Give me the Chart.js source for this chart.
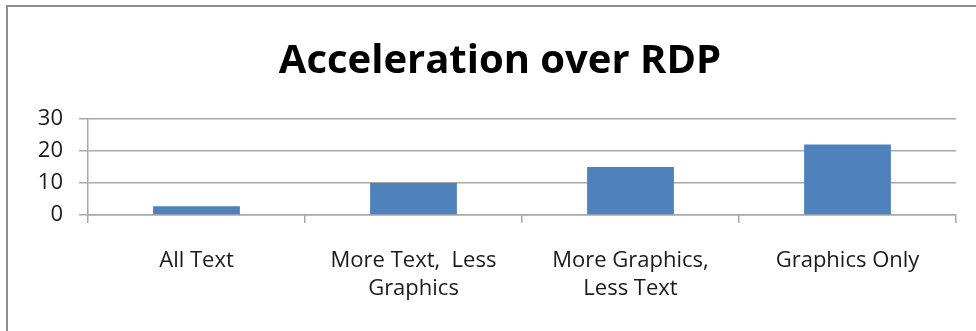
<!DOCTYPE html>
<html>
<head>
<meta charset="utf-8">
<script src="https://cdn.jsdelivr.net/npm/chart.js@4/dist/chart.umd.min.js"></script>
<style>
  html, body { margin: 0; padding: 0; background: #ffffff; overflow: hidden; }
  #wrap { position: relative; width: 976px; height: 331px; }
  #frame { position: absolute; left: 6px; top: 5px; width: 1100px; height: 500px;
           border-left: 2px solid #8e8e8e; border-top: 2px solid #8e8e8e; box-sizing: border-box; }
  #c { position: absolute; left: 0; top: 0; }
</style>
</head>
<body>
<div id="wrap">
  <div id="frame"></div>
  <canvas id="c" width="976" height="331"></canvas>
</div>
<script>
const categories = ["All Text", ["More Text,  Less", "Graphics"], ["More Graphics,", "Less Text"], "Graphics Only"];
const seriesValues = [2.7, 10, 15, 22];
const yTicks = [0, 10, 20, 30];
const chartTitle = "Acceleration over RDP";

const gridColor = "#a8a8a8";
const textColor = "#1a1a1a";

// let the y tick labels extend into the left padding (title centred on the frame)
const widenYLabelArea = {
  id: "widenYLabelArea",
  afterLayout(chart) { chart.scales.y.left = 0; }
};

new Chart(document.getElementById("c"), {
  type: "bar",
  data: {
    labels: categories,
    datasets: [{
      label: "Acceleration",
      data: seriesValues,
      backgroundColor: "#4f81bd",
      borderWidth: 0,
      categoryPercentage: 0.4,
      barPercentage: 1.0
    }]
  },
  plugins: [widenYLabelArea],
  options: {
    responsive: false,
    animation: false,
    devicePixelRatio: 1,
    layout: { padding: { left: 44, right: 20, top: 0, bottom: 0 } },
    plugins: {
      legend: { display: false },
      tooltip: { enabled: false },
      title: {
        display: true,
        text: chartTitle,
        color: "#000000",
        font: { family: "Open Sans", size: 40, weight: "bold", lineHeight: 1.2 },
        padding: { top: 38, bottom: 33 }
      }
    },
    scales: {
      y: {
        min: yTicks[0],
        max: yTicks[yTicks.length - 1],
        afterBuildTicks: (scale) => { scale.ticks = yTicks.map(v => ({ value: v })); },
        afterFit: (scale) => { scale.width = 44; },
        ticks: {
          color: textColor,
          padding: 16,
          font: { family: "Open Sans", size: 22 }
        },
        grid: { color: gridColor, lineWidth: 1.5, tickLength: 9, drawTicks: true },
        border: { display: true, color: gridColor, width: 1.5 }
      },
      x: {
        afterFit: (scale) => { scale.height = 116; },
        ticks: {
          color: textColor,
          padding: 24,
          maxRotation: 0,
          autoSkip: false,
          font: { family: "Open Sans", size: 22, lineHeight: 1.25 }
        },
        grid: { offset: true, drawOnChartArea: false, drawTicks: true, tickLength: 8, color: gridColor, lineWidth: 1.5 },
        border: { display: true, color: gridColor, width: 1.5 }
      }
    }
  }
});
</script>
</body>
</html>
